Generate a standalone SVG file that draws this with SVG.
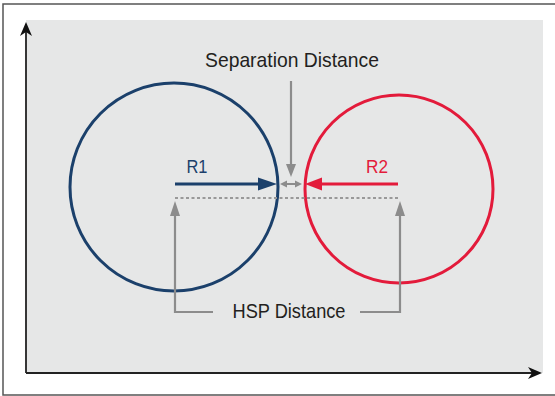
<svg xmlns="http://www.w3.org/2000/svg" width="555" height="396" viewBox="0 0 555 396">
<defs>
<style>
.txt{font-family:"Liberation Sans","Noto Sans",sans-serif;fill:#231f20}
.gray{stroke:#8c8c8c;stroke-width:2.2;fill:none}
.axis{stroke:#222;stroke-width:1.8;fill:none}
</style>
</defs>
<rect x="3" y="4" width="560" height="391" fill="#fff" stroke="#555" stroke-width="1.5"/>
<rect x="26" y="20" width="517" height="353" fill="#e6e7e7"/>
<g id="axes">
<path class="axis" d="M26,373 V32"/>
<path d="M26,22 L20,36 L26,32 L32,36 Z" fill="#111"/>
<path class="axis" d="M26,373 H532"/>
<path d="M542,373 L528,367 L532,373 L528,379 Z" fill="#111"/>
</g>
<g id="circle-r1">
<circle cx="174" cy="187" r="104" fill="none" stroke="#1b406b" stroke-width="3"/>
</g>
<g id="circle-r2">
<circle cx="399" cy="189" r="94" fill="none" stroke="#e31b3b" stroke-width="3"/>
</g>
<g id="label-separation">
<text class="txt" x="292" y="67" font-size="21" text-anchor="middle" textLength="174" lengthAdjust="spacingAndGlyphs">Separation Distance</text>
</g>
<g id="label-hsp">
<text class="txt" x="289" y="318" font-size="21" text-anchor="middle" textLength="113" lengthAdjust="spacingAndGlyphs">HSP Distance</text>
</g>
<g id="label-r1">
<text x="197" y="173" font-size="19" text-anchor="middle" font-family="Liberation Sans, sans-serif" fill="#1b406b" textLength="21" lengthAdjust="spacingAndGlyphs">R1</text>
</g>
<g id="label-r2">
<text x="377" y="173" font-size="19" text-anchor="middle" font-family="Liberation Sans, sans-serif" fill="#e31b3b" textLength="22" lengthAdjust="spacingAndGlyphs">R2</text>
</g>
<g id="connectors">
<path d="M175,184 H260" stroke="#1b406b" stroke-width="3"/>
<path d="M277,184 L258,177.5 L258,190.5 Z" fill="#1b406b"/>
<path d="M398,184 H320" stroke="#e31b3b" stroke-width="3"/>
<path d="M305,184 L322,177.5 L322,190.5 Z" fill="#e31b3b"/>
<path d="M286,184 H296" stroke="#8c8c8c" stroke-width="2"/>
<path d="M280,184 L287,180.5 L287,187.5 Z" fill="#8c8c8c"/>
<path d="M302,184 L295,180.5 L295,187.5 Z" fill="#8c8c8c"/>
<path class="gray" d="M291,81 V166"/>
<path d="M291,177 L286,164 L296,164 Z" fill="#8c8c8c"/>
<path d="M175,198 H400" stroke="#999" stroke-width="2" stroke-dasharray="3 2.5" fill="none"/>
<path class="gray" d="M213,312 H175 V214"/>
<path d="M175,201 L170,216 L180,216 Z" fill="#8c8c8c"/>
<path class="gray" d="M360,312 H400 V214"/>
<path d="M400,201 L395,216 L405,216 Z" fill="#8c8c8c"/>
</g>
</svg>
